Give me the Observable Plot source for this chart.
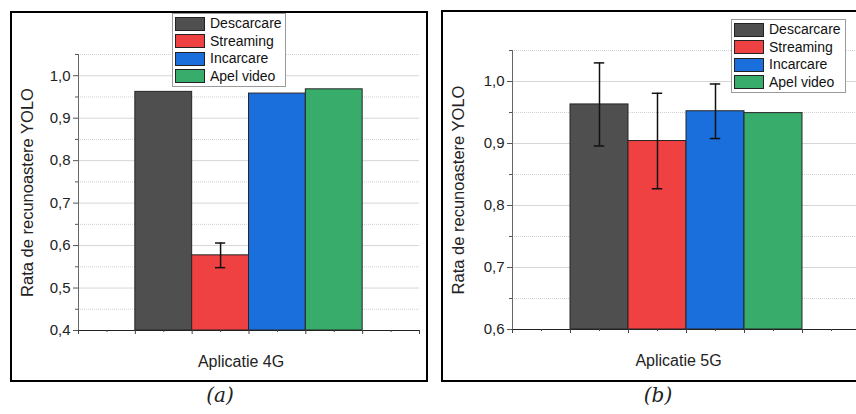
<!DOCTYPE html>
<html>
<head>
<meta charset="utf-8">
<script src="https://cdn.jsdelivr.net/npm/d3@7"></script>
<script src="https://cdn.jsdelivr.net/npm/@observablehq/plot@0.6"></script>
<style>
  html, body { margin: 0; padding: 0; background: #fff; }
  #page { position: relative; width: 856px; height: 414px; overflow: hidden; background: #fff;
          font-family: "Liberation Sans", Arial, sans-serif; }
  .panel { position: absolute; }
  .panel svg { display: block; max-width: none !important; }
  .frame { position: absolute; border: 2px solid #000; box-sizing: border-box; pointer-events: none; }
  .legend { position: absolute; background: #fff; border: 1px solid #9a9a9a; box-sizing: border-box;
            padding: 1px 2px; font-size: 14px; color: #111; line-height: 17.5px; }
  .legend .row { display: flex; align-items: center; height: 17.5px; white-space: nowrap; }
  .legend .sw { width: 30px; height: 14px; border: 1px solid #222; box-sizing: border-box; margin-right: 5px; }
  .caption { position: absolute; top: 383px; font-family: "DejaVu Serif", serif; font-style: italic;
             font-size: 20px; color: #222; transform: translateX(-50%); }
</style>
</head>
<body>
<div id="page"></div>
<script>
// Series shown in each panel
const categories = ["Descarcare", "Streaming", "Incarcare", "Apel video"];
const colors = ["#4f4f4f", "#ef4042", "#1b6fdc", "#37ac6b"];

// Aplicatie 4G
const values4G = [0.962, 0.577, 0.958, 0.968];
const errors4G = [null, 0.029, null, null];
const yTicks4G = [0.4, 0.5, 0.6, 0.7, 0.8, 0.9, 1.0];
const yDomain4G = [0.4, 1.05];

// Aplicatie 5G
const values5G = [0.963, 0.904, 0.952, 0.949];
const errors5G = [0.067, 0.077, 0.044, null];
const yTicks5G = [0.6, 0.7, 0.8, 0.9, 1.0];
const yDomain5G = [0.6, 1.05];

const yLabel = "Rata de recunoastere YOLO";
const xLabels = ["Aplicatie 4G", "Aplicatie 5G"];
const captions = ["(a)", "(b)"];

// x positions: four bars sit in slots 1..5 of a 0..6 category axis
const xSlots = [0, 1, 2, 3, 4, 5, 6];

const fmt = d => d.toFixed(1).replace(".", ",");

function midpoints(ticks, top) {
  const m = ticks.slice(0, -1).map((t, k) => (t + ticks[k + 1]) / 2);
  const last = ticks[ticks.length - 1] + (ticks[1] - ticks[0]) / 2;
  if (last <= top + 1e-9) m.push(last);
  return m;
}

function panel({values, errors, ticks, domain, xLabel, width, height, margin, labelDx}) {
  const rows = categories.map((c, i) => ({cat: c, i, v: values[i], e: errors[i]}));
  const withErr = rows.filter(d => d.e != null);
  const minorY = midpoints(ticks, domain[1]);
  const minorX = xSlots.slice(0, -1).map(x => x + 0.5);
  return Plot.plot({
    width, height,
    marginLeft: margin.left, marginRight: margin.right,
    marginTop: margin.top, marginBottom: margin.bottom,
    x: {domain: [0, 6], axis: null},
    y: {domain, axis: null},
    color: {domain: categories, range: colors},
    style: {fontFamily: "'Liberation Sans', Arial, sans-serif", fontSize: "15px", color: "#222",
            background: "#fff", overflow: "visible", maxWidth: "none"},
    marks: [
      Plot.gridY(minorY, {stroke: "#d0d0d0", strokeOpacity: 1, strokeDasharray: "1,1"}),
      Plot.gridY(ticks, {stroke: "#d6d6d6", strokeOpacity: 1}),
      Plot.rectY(rows, {x1: d => d.i + 1, x2: d => d.i + 2, y1: domain[0], y2: "v",
                        fill: "cat", stroke: "#262626", strokeWidth: 1}),
      Plot.ruleX(withErr, {x: d => d.i + 1.5, y1: d => d.v - d.e, y2: d => d.v + d.e,
                           stroke: "#111", strokeWidth: 1.5}),
      Plot.ruleY(withErr, {y: d => d.v + d.e, x1: d => d.i + 1.41, x2: d => d.i + 1.59,
                           stroke: "#111", strokeWidth: 1.5}),
      Plot.ruleY(withErr, {y: d => d.v - d.e, x1: d => d.i + 1.41, x2: d => d.i + 1.59,
                           stroke: "#111", strokeWidth: 1.5}),
      Plot.ruleX([0], {stroke: "#666"}),
      Plot.ruleY([domain[0]], {stroke: "#222"}),
      Plot.axisY({ticks, tickSize: 5, tickPadding: 3, tickFormat: fmt, label: null,
                  stroke: "#555", fontSize: 15, fill: "#222"}),
      Plot.axisY({ticks: minorY, tickSize: 3, tickFormat: () => "", label: null, stroke: "#555"}),
      Plot.axisX({ticks: xSlots, tickSize: 4, tickFormat: () => "", label: null, stroke: "#444"}),
      Plot.axisX({ticks: minorX, tickSize: 2, tickFormat: () => "", label: null, stroke: "#444"}),
      Plot.text([yLabel], {frameAnchor: "left", textAnchor: "middle", lineAnchor: "middle",
                           rotate: -90, dx: labelDx, text: d => d, fontSize: 16.5, fill: "#222"}),
      Plot.text([xLabel], {frameAnchor: "bottom", dx: -8, dy: 36, text: d => d,
                           fontSize: 16, fill: "#222"})
    ]
  });
}

const page = document.getElementById("page");

function place(el, left, top, w, h) {
  const wrap = document.createElement("div");
  wrap.className = "panel";
  Object.assign(wrap.style, {left: left + "px", top: top + "px", width: w + "px", height: h + "px"});
  wrap.appendChild(el);
  page.appendChild(wrap);
}

function frame(left, top, w, h) {
  const f = document.createElement("div");
  f.className = "frame";
  Object.assign(f.style, {left: left + "px", top: top + "px", width: w + "px", height: h + "px"});
  page.appendChild(f);
}

function legend(left, top, w, h) {
  const lg = document.createElement("div");
  lg.className = "legend";
  Object.assign(lg.style, {left: left + "px", top: top + "px", width: w + "px", height: h + "px"});
  categories.forEach((c, i) => {
    const row = document.createElement("div");
    row.className = "row";
    const sw = document.createElement("div");
    sw.className = "sw";
    sw.style.background = colors[i];
    const tx = document.createElement("span");
    tx.textContent = c;
    row.appendChild(sw);
    row.appendChild(tx);
    lg.appendChild(row);
  });
  page.appendChild(lg);
}

function caption(text, cx) {
  const c = document.createElement("div");
  c.className = "caption";
  c.style.left = cx + "px";
  c.textContent = text;
  page.appendChild(c);
}

// Panel (a)
place(panel({values: values4G, errors: errors4G, ticks: yTicks4G, domain: yDomain4G,
             xLabel: xLabels[0], width: 416, height: 369,
             margin: {left: 67, right: 8, top: 42, bottom: 51}, labelDx: -51}), 11, 12, 416, 369);
frame(10, 11, 418, 371);
legend(172, 13, 114, 74);
caption(captions[0], 220);

// Panel (b)
place(panel({values: values5G, errors: errors5G, ticks: yTicks5G, domain: yDomain5G,
             xLabel: xLabels[1], width: 426, height: 370,
             margin: {left: 70, right: 8, top: 39, bottom: 52}, labelDx: -54}), 442, 11, 426, 370);
frame(441, 10, 428, 372);
legend(731, 19, 115, 74);
caption(captions[1], 658);
</script>
</body>
</html>
